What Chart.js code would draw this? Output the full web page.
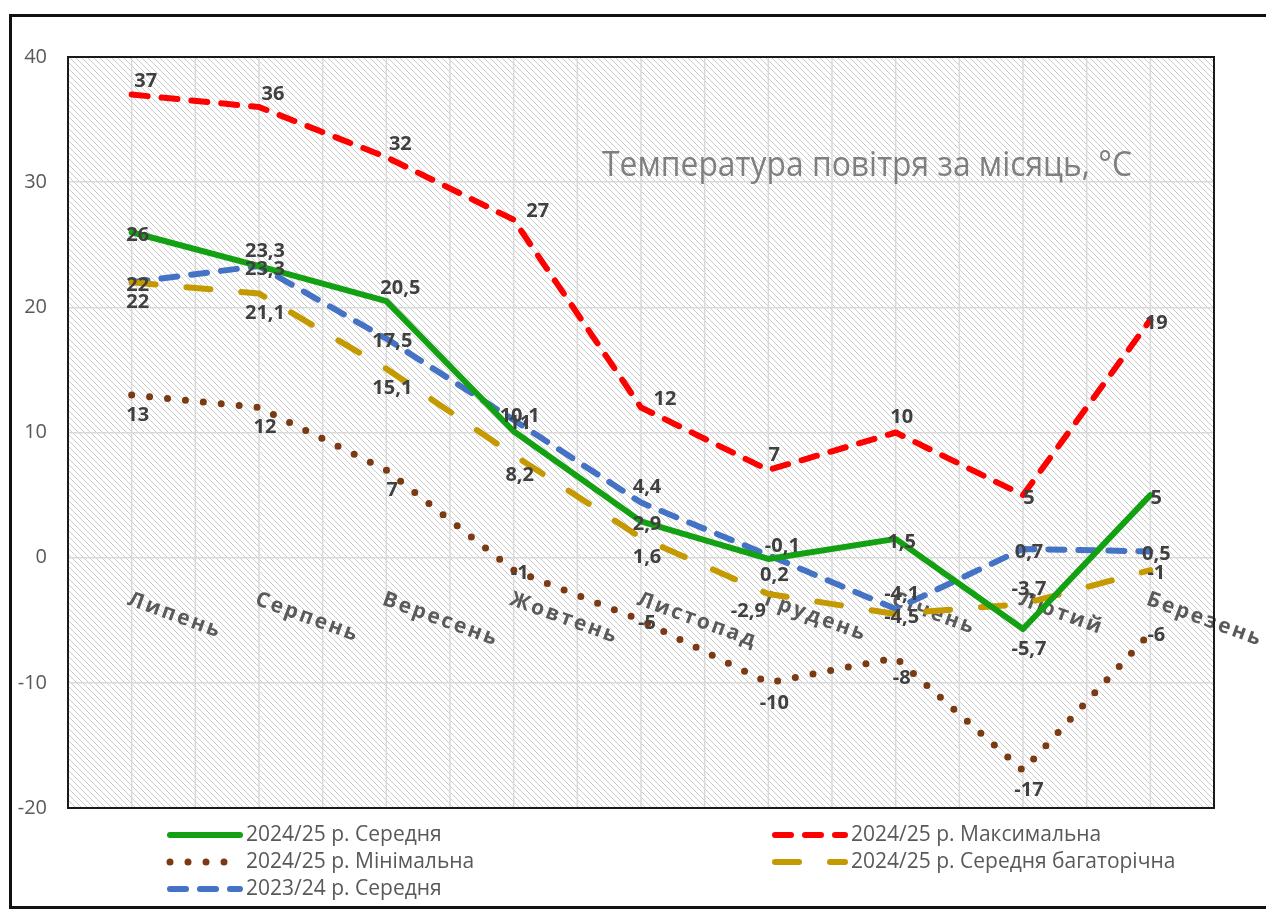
<!DOCTYPE html>
<html>
<head>
<meta charset="utf-8">
<script src="https://cdn.jsdelivr.net/npm/chart.js@4.4.1/dist/chart.umd.min.js"></script>
<style>
  html, body { margin: 0; padding: 0; background: #fff; }
  canvas { display: block; }
</style>
</head>
<body>
<canvas id="tempChart" width="1266" height="912"></canvas>
<script>
// months of the season
const months = ["Липень", "Серпень", "Вересень", "Жовтень", "Листопад", "Грудень", "Січень", "Лютий", "Березень"];

// series values, °C
const avg2425 = [26, 23.3, 20.5, 10.1, 2.9, -0.1, 1.5, -5.7, 5];
const max2425 = [37, 36, 32, 27, 12, 7, 10, 5, 19];
const min2425 = [13, 12, 7, -1, -5, -10, -8, -17, -6];
const norm2425 = [22, 21.1, 15.1, 8.2, 1.6, -2.9, -4.5, -3.7, -1];
const avg2324 = [22, 23.3, 17.5, 11, 4.4, 0.2, -4.1, 0.7, 0.5];

const yTicks = [-20, -10, 0, 10, 20, 30, 40];

const chartTitle = "Температура повітря за місяць, °C";

// where each value label sits relative to its point
const labelOffsets = {
  c: [6, 3], a: [6, -15], b: [6, 20], ar: [14, -13], r: [24, -8], bl: [-20, 17]
};

function fmt(v) {
  return String(v).replace(".", ",");
}

// diagonal hatch like the Excel plot area fill
function hatchPattern(ctx) {
  const s = 6;
  const c = document.createElement("canvas");
  c.width = s; c.height = s;
  const p = c.getContext("2d");
  p.fillStyle = "#ffffff";
  p.fillRect(0, 0, s, s);
  p.strokeStyle = "#cccccc";
  p.lineWidth = 1;
  p.beginPath();
  p.moveTo(0, 0); p.lineTo(s, s);
  p.moveTo(-1, s - 1); p.lineTo(1, s + 1);
  p.moveTo(s - 1, -1); p.lineTo(s + 1, 1);
  p.stroke();
  return ctx.createPattern(c, "repeat");
}

const decor = {
  id: "decor",
  beforeDraw(chart) {
    const { ctx, chartArea: a } = chart;
    ctx.save();
    ctx.fillStyle = "#fff";
    ctx.fillRect(0, 0, chart.width, chart.height);
    ctx.fillStyle = hatchPattern(ctx);
    ctx.fillRect(a.left, a.top, a.right - a.left, a.bottom - a.top);
    ctx.restore();
  },
  beforeDatasetsDraw(chart) {
    const { ctx, chartArea: a } = chart;
    const x = chart.scales.x, y = chart.scales.y;
    const half = (x.getPixelForValue(1) - x.getPixelForValue(0)) / 2;
    ctx.save();
    // vertical grid at category centres and between them
    ctx.strokeStyle = "#d9d9d9";
    ctx.lineWidth = 1.5;
    ctx.beginPath();
    months.forEach((m, i) => {
      const px = x.getPixelForValue(i);
      ctx.moveTo(px - half, a.top); ctx.lineTo(px - half, a.bottom);
      ctx.moveTo(px, a.top); ctx.lineTo(px, a.bottom);
    });
    ctx.stroke();

    // title inside the plot
    ctx.fillStyle = "#7f7f7f";
    ctx.font = "35px 'Open Sans'";
    ctx.textAlign = "left";
    ctx.textBaseline = "middle";
    ctx.fillText(chartTitle, 602, 166, 530);

    // month names near the zero line, tilted
    const y0 = y.getPixelForValue(0);
    ctx.fillStyle = "#5a5a5a";
    ctx.font = "bold 21px 'Open Sans'";
    ctx.letterSpacing = "2.5px";
    months.forEach((m, i) => {
      ctx.save();
      ctx.translate(x.getPixelForValue(i) - 3, y0 + 41);
      ctx.rotate(20 * Math.PI / 180);
      ctx.fillText(m, 0, 0);
      ctx.restore();
    });
    ctx.restore();
  },
  afterDatasetsDraw(chart) {
    const { ctx, chartArea: a } = chart;
    ctx.save();
    ctx.font = "bold 20px 'Open Sans'";
    ctx.fillStyle = "#404040";
    ctx.textAlign = "center";
    ctx.textBaseline = "middle";
    chart.data.datasets.forEach((ds, di) => {
      const meta = chart.getDatasetMeta(di);
      meta.data.forEach((pt, i) => {
        const off = labelOffsets[ds.labelPos[i]] || labelOffsets.c;
        ctx.fillText(fmt(ds.data[i]), pt.x + off[0], pt.y + off[1]);
      });
    });
    // plot area border
    ctx.strokeStyle = "#1a1a1a";
    ctx.lineWidth = 2;
    ctx.strokeRect(a.left, a.top, a.right - a.left, a.bottom - a.top);
    ctx.restore();
  },
  afterDraw(chart) {
    const { ctx } = chart;
    ctx.save();
    // legend in two columns
    const cols = [167, 772], rows = [835, 862, 889];
    ctx.font = "21px 'Open Sans'";
    ctx.textAlign = "left";
    ctx.textBaseline = "middle";
    chart.data.datasets.forEach((ds, i) => {
      const lx = cols[i % 2], ly = rows[Math.floor(i / 2)];
      ctx.save();
      ctx.strokeStyle = ds.borderColor;
      ctx.lineWidth = ds.borderWidth;
      ctx.lineCap = "round";
      ctx.setLineDash(ds.borderDash || []);
      ctx.beginPath();
      ctx.moveTo(lx + 3, ly); ctx.lineTo(lx + 73, ly);
      ctx.stroke();
      ctx.restore();
      ctx.fillStyle = "#595959";
      ctx.fillText(ds.label, lx + 79, ly);
    });
    // outer frame
    ctx.strokeStyle = "#111";
    ctx.lineWidth = 3;
    ctx.strokeRect(10.5, 15.5, 1300, 892);
    ctx.restore();
  }
};

new Chart(document.getElementById("tempChart"), {
  type: "line",
  data: {
    labels: months,
    datasets: [
      {
        label: "2024/25 р. Середня",
        data: avg2425,
        borderColor: "#13a013",
        borderWidth: 6,
        labelPos: ["c", "a", "ar", "a", "c", "ar", "c", "b", "c"]
      },
      {
        label: "2024/25 р. Максимальна",
        data: max2425,
        borderColor: "#ff0000",
        borderWidth: 6,
        borderDash: [16, 14],
        labelPos: ["ar", "ar", "ar", "r", "r", "a", "a", "c", "c"]
      },
      {
        label: "2024/25 р. Мінімальна",
        data: min2425,
        borderColor: "#7a3a12",
        borderWidth: 7,
        borderDash: [0, 18],
        labelPos: ["b", "b", "b", "c", "c", "b", "b", "b", "c"]
      },
      {
        label: "2024/25 р. Середня багаторічна",
        data: norm2425,
        borderColor: "#c49a00",
        borderWidth: 6,
        borderDash: [24, 31],
        labelPos: ["b", "b", "b", "b", "b", "bl", "c", "a", "c"]
      },
      {
        label: "2023/24 р. Середня",
        data: avg2324,
        borderColor: "#4472c4",
        borderWidth: 6,
        borderDash: [16, 14],
        labelPos: ["c", "c", "c", "c", "a", "b", "a", "c", "c"]
      }
    ].map(d => Object.assign({ pointRadius: 0, tension: 0, fill: false, borderCapStyle: "round", borderJoinStyle: "round" }, d))
  },
  options: {
    responsive: false,
    animation: false,
    devicePixelRatio: 1,
    layout: { padding: { left: 0, top: 57, right: 52, bottom: 104 } },
    plugins: { legend: { display: false }, tooltip: { enabled: false } },
    scales: {
      x: {
        offset: true,
        grid: { display: false },
        border: { display: false },
        ticks: { display: false },
        afterFit: s => { s.height = 0; }
      },
      y: {
        min: -20,
        max: 40,
        afterBuildTicks: s => { s.ticks = yTicks.map(v => ({ value: v })); },
        grid: { color: "#d9d9d9", lineWidth: 1.5, drawTicks: false },
        border: { display: false },
        ticks: { color: "#595959", font: { family: "'Open Sans'", size: 20 }, padding: 21 },
        afterFit: s => { s.width = 68; }
      }
    }
  },
  plugins: [decor]
});
</script>
</body>
</html>
